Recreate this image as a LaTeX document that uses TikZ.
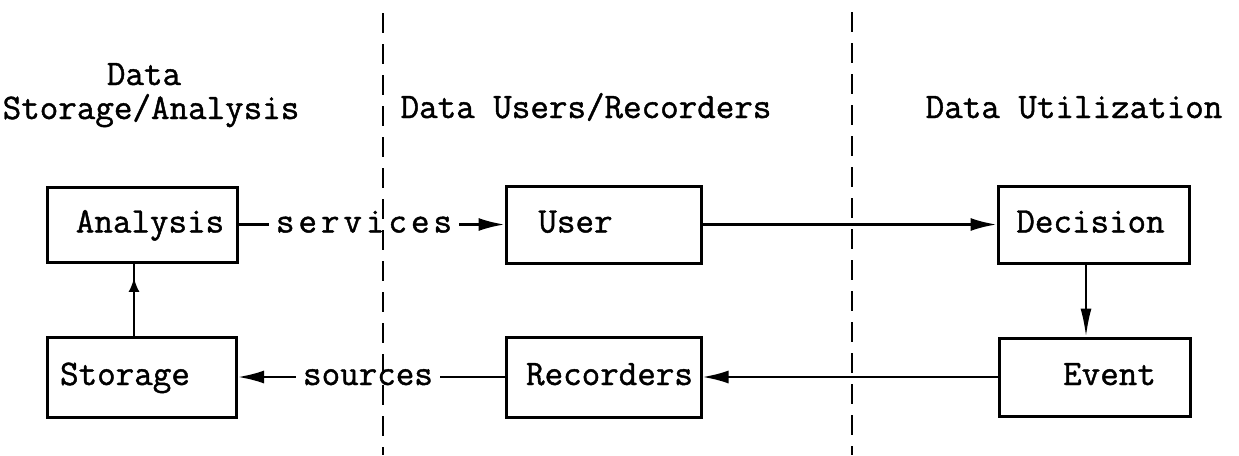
\documentclass[tikz,border=0pt]{standalone}
\usepackage{fontspec}
\newfontfamily\typer{Latin Modern Mono}[FakeBold=1.2]
\usetikzlibrary{arrows.meta,decorations.markings}
\begin{document}
\begin{tikzpicture}[x=1pt,y=-1pt,
  font=\fontsize{36}{40}\selectfont\typer,
  box/.style={draw, line width=3pt, inner sep=0pt, minimum height=77pt,
    minimum width=191pt, text height=22pt, text depth=6pt},
  tshift/.style={execute at begin node={\hspace*{#1}},
    execute at end node={\hspace*{-#1}}},
  head/.style={anchor=base, inner sep=0pt},
  lbl/.style={anchor=base, inner xsep=7pt, inner ysep=0pt},
  conn/.style={line width=2.4pt},
  vconn/.style={line width=2.1pt},
  arr/.style={-{Latex[length=26pt,width=13pt]}},
  varr/.style={-{Latex[length=28pt,width=11pt]}},
  midarr/.style={postaction={decorate}, decoration={markings,
    mark=at position 0.8 with {\arrow{Latex[length=14pt,width=11pt]}}}},
  sep/.style={line width=2pt, dash pattern=on 20pt off 11pt}]
\useasboundingbox (0,0) rectangle (1239,455);

% column separators
\coordinate (sepAtop) at (383,13);
\coordinate (sepAbot) at (383,455);
\coordinate (sepBtop) at (852,12);
\coordinate (sepBbot) at (852,455);
\draw[sep] (sepAtop) -- (sepAbot);
\draw[sep] (sepBtop) -- (sepBbot);

% column headings
\node[head] (hdA1) at (144,85) {Data};
\node[head] (hdA2) at (151,119) {Storage/Analysis};
\node[head] (hdB)  at (586,118) {Data Users/Recorders};
\node[head] (hdC)  at (1074,118) {Data Utilization};

% boxes
\node[box, minimum width=190pt, minimum height=75pt, tshift=8pt]   (analysis)  at (142,224.5)  {Analysis};
\node[box, minimum width=189pt, minimum height=80pt, tshift=-17pt] (storage)   at (142,377)    {Storage};
\node[box, minimum width=195pt, tshift=-28pt]                      (user)      at (603.5,224.5) {User};
\node[box, minimum width=195pt, minimum height=80pt, tshift=6pt]   (recorders) at (603.5,377)  {Recorders};
\node[box, tshift=-3pt]                                            (decision)  at (1093.5,224.5) {Decision};
\node[box, minimum height=78pt, tshift=15pt]                       (event)     at (1094.5,377) {Event};

% connector labels
\node[lbl] (services) at (364,232.5) {\addfontfeature{LetterSpace=11}services};
\node[lbl] (sources)  at (368,385)   {sources};

% connectors
\draw[conn] (analysis.east) -- (analysis.east -| services.west);
\draw[conn, arr] (services.east |- user.west) -- (user.west);
\draw[conn, arr] (user.east) -- (decision.west);
\draw[vconn, varr] ([xshift=-7.5pt]decision.south) -- ([xshift=-7.5pt]decision.south |- event.north);
\draw[conn, arr] (event.west) -- (recorders.east);
\draw[conn] (recorders.west) -- (recorders.west -| sources.east);
\draw[conn, arr] (sources.west |- storage.east) -- (storage.east);
\draw[vconn, midarr] ([xshift=-8pt]storage.north) -- ([xshift=-8pt]storage.north |- analysis.south);
\end{tikzpicture}
\end{document}
